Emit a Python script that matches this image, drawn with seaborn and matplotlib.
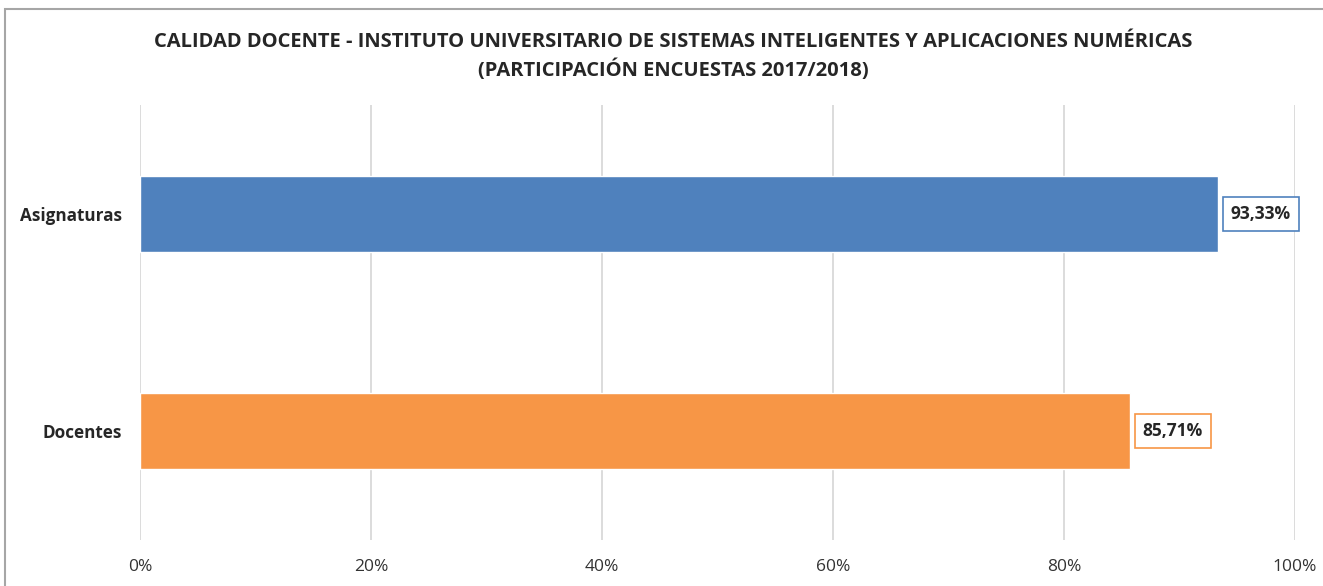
import pandas as pd
import matplotlib
matplotlib.use("Agg")
import matplotlib.pyplot as plt
import matplotlib.patches as mpatches
import seaborn as sns

categorias = ["Asignaturas", "Docentes"]
valores = [93.33, 85.71]
etiquetas = ["93,33%", "85,71%"]
colores = ["#4F81BD", "#F79646"]
ticks = [0, 20, 40, 60, 80, 100]
tick_labels = ["0%", "20%", "40%", "60%", "80%", "100%"]

sns.set_style("white")
plt.rcParams["font.family"] = ["Open Sans", "DejaVu Sans"]

df = pd.DataFrame({"categoria": categorias, "valor": valores})

fig = plt.figure(figsize=(13.23, 5.86), dpi=100)
ax = fig.add_axes([0.1058, 0.0785, 0.873, 0.7423])

sns.barplot(data=df, x="valor", y="categoria", hue="categoria", palette=colores,
            orient="h", width=0.35, legend=False, ax=ax, saturation=1)

ax.set_xlim(0, 100)
ax.set_ylim(1.5, -0.5)
ax.set_xticks(ticks)
ax.set_xticklabels(tick_labels, fontsize=12.5, color="#333333")
ax.tick_params(axis="x", length=0, pad=14)
ax.tick_params(axis="y", length=0, pad=13)
for lbl in ax.get_yticklabels():
    lbl.set_fontsize(12.3)
    lbl.set_fontweight("bold")
ax.set_xlabel("")
ax.set_ylabel("")
ax.xaxis.grid(True, color="#D9D9D9", linewidth=1.3)
ax.set_axisbelow(True)
for s in ax.spines.values():
    s.set_visible(False)

for i, (v, t) in enumerate(zip(valores, etiquetas)):
    ax.text(v + 1.1, i, t, fontsize=12.5, fontweight="bold", ha="left", va="center",
            bbox=dict(boxstyle="square,pad=0.45", fc="white", ec=colores[i], lw=1.2))

fig.text(0.509, 0.928, "CALIDAD DOCENTE - INSTITUTO UNIVERSITARIO DE SISTEMAS INTELIGENTES Y APLICACIONES NUMÉRICAS",
         ha="center", va="center", fontsize=14.5, fontweight="bold")
fig.text(0.509, 0.880, "(PARTICIPACIÓN ENCUESTAS 2017/2018)",
         ha="center", va="center", fontsize=14.5, fontweight="bold")

borde = mpatches.Rectangle((5 / 1323, -0.1), 1.2, 1 - 9 / 586 + 0.1, transform=fig.transFigure,
                           fill=False, ec="#A6A6A6", lw=1.5)
fig.patches.append(borde)

fig.savefig("out.png", dpi=100)
